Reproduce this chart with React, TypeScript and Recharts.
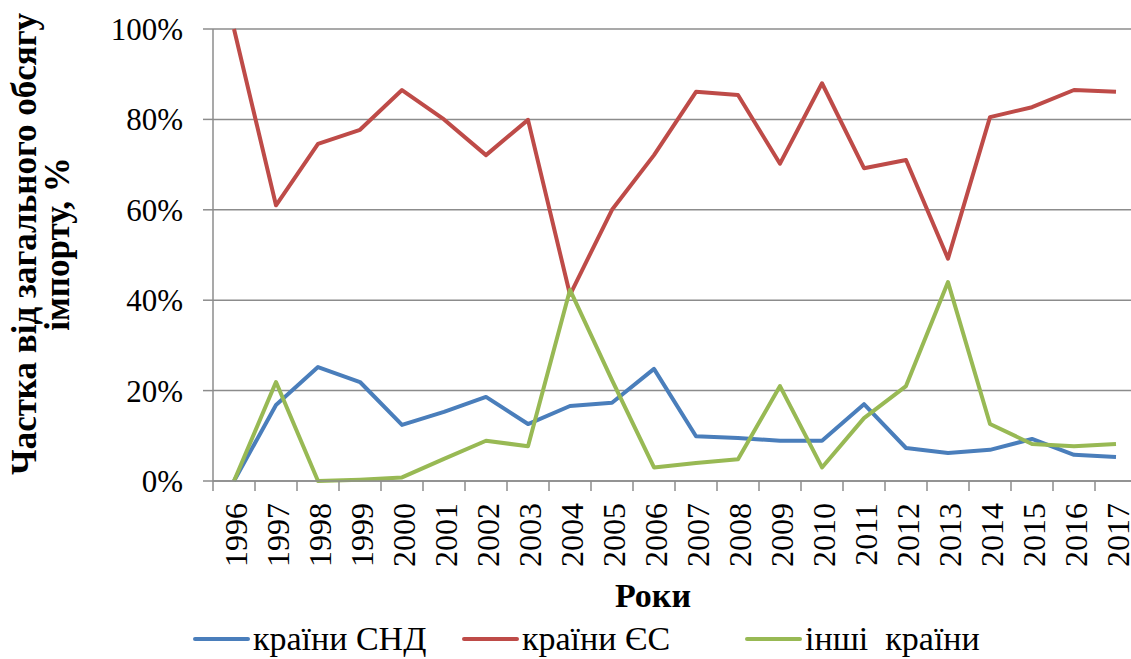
import React from 'react';
import { LineChart, Line, XAxis, YAxis, CartesianGrid, Legend } from 'recharts';

const years = ['1996','1997','1998','1999','2000','2001','2002','2003','2004','2005','2006','2007','2008','2009','2010','2011','2012','2013','2014','2015','2016','2017'];
const cis = [0, 16.8, 25.2, 21.9, 12.4, 15.3, 18.6, 12.6, 16.6, 17.3, 24.8, 9.9, 9.5, 8.9, 8.9, 17.0, 7.3, 6.2, 6.9, 9.3, 5.8, 5.3];
const eu = [100, 61.0, 74.6, 77.7, 86.5, 80.0, 72.1, 79.9, 41.2, 60.0, 72.1, 86.1, 85.4, 70.2, 88.0, 69.2, 71.0, 49.2, 80.5, 82.7, 86.5, 86.1];
const other = [0, 21.9, 0, 0.3, 0.8, 4.9, 8.9, 7.7, 42.3, 22.3, 3.0, 4.0, 4.8, 21.0, 3.0, 13.9, 21.0, 44.0, 12.6, 8.2, 7.7, 8.2];
const yTicks = [0, 20, 40, 60, 80, 100];
const seriesNames = ['країни СНД', 'країни ЄС', 'інші  країни'];
const seriesColors = ['#4a7ebb', '#be4b48', '#98b954'];
const yTitle = ['Частка від загального обсягу', 'імпорту, %'];
const xTitle = 'Роки';

const data = years.map((y, i) => ({ year: y, cis: cis[i], eu: eu[i], other: other[i] }));

const FONT = '"Liberation Serif", "Times New Roman", serif';
const GRID = '#8c8c8c';

const XTick = (props: any) => {
  const { x, y, payload } = props;
  const half = 21;
  return (
    <g>
      <line x1={x - half} x2={x - half} y1={y - 21} y2={y - 11} stroke={GRID} strokeWidth={1.5} />
      <g transform={`translate(${x + 2},${y + 1})`}>
        <text transform="rotate(-90)" textAnchor="end" dy="0.35em" fontFamily={FONT} fontSize={32} fill="#000">
          {payload.value}
        </text>
      </g>
    </g>
  );
};

const YTitle = () => {
  return (
    <g fontFamily={FONT} fontSize={35} fontWeight="bold" fill="#000">
      <text transform="translate(36,244) rotate(-90)" textAnchor="middle">{yTitle[0]}</text>
      <text transform="translate(69,244) rotate(-90)" textAnchor="middle">{yTitle[1]}</text>
    </g>
  );
};

const XTitle = () => (
  <text x={653} y={607} textAnchor="middle" fontFamily={FONT} fontSize={34} fontWeight="bold" fill="#000">{xTitle}</text>
);

const legendLefts = [193, 462, 745];

const LegendContent = () => (
  <div style={{ position: 'relative', width: 1140, height: 40, fontFamily: FONT, fontSize: 34, color: '#000' }}>
    {seriesNames.map((n, i) => (
      <div key={n} style={{ position: 'absolute', left: legendLefts[i], top: 0, height: 40, display: 'flex', alignItems: 'center', whiteSpace: 'pre' }}>
        <div style={{ width: 57, height: 4, background: seriesColors[i], marginRight: 3, borderRadius: 2 }} />
        <span>{n}</span>
      </div>
    ))}
  </div>
);

export default function App() {
  return (
    <div style={{ position: 'absolute', left: 0, top: 0, width: 1131, height: 659, overflow: 'hidden', background: '#fff' }}>
      <LineChart width={1140} height={659} data={data} margin={{ top: 29, right: 3, bottom: 0, left: 0 }}>
        <CartesianGrid vertical={false} stroke={GRID} strokeWidth={1.5} />
        <XAxis
          dataKey="year"
          scale="band"
          height={138}
          tick={<XTick />}
          tickSize={10}
          tickMargin={11}
          interval={0}
          axisLine={{ stroke: GRID, strokeWidth: 1.5 }}
          tickLine={false}
          label={<XTitle />}
        />
        <YAxis
          width={213}
          domain={[0, 100]}
          ticks={yTicks}
          tickFormatter={(v: number) => `${v}%`}
          tickSize={10}
          tickMargin={20}
          tick={{ fontFamily: FONT, fontSize: 31, fill: '#000' }}
          axisLine={{ stroke: GRID, strokeWidth: 1.5 }}
          tickLine={{ stroke: GRID, strokeWidth: 1.5 }}
          label={<YTitle />}
        />
        <Legend verticalAlign="bottom" height={40} content={<LegendContent />} wrapperStyle={{ left: 0, bottom: 0, width: 1140 }} />
        <Line type="linear" dataKey="cis" name={seriesNames[0]} stroke={seriesColors[0]} strokeWidth={4} dot={false} isAnimationActive={false} strokeLinejoin="round" />
        <Line type="linear" dataKey="eu" name={seriesNames[1]} stroke={seriesColors[1]} strokeWidth={4} dot={false} isAnimationActive={false} strokeLinejoin="round" />
        <Line type="linear" dataKey="other" name={seriesNames[2]} stroke={seriesColors[2]} strokeWidth={4} dot={false} isAnimationActive={false} strokeLinejoin="round" />
      </LineChart>
    </div>
  );
}
